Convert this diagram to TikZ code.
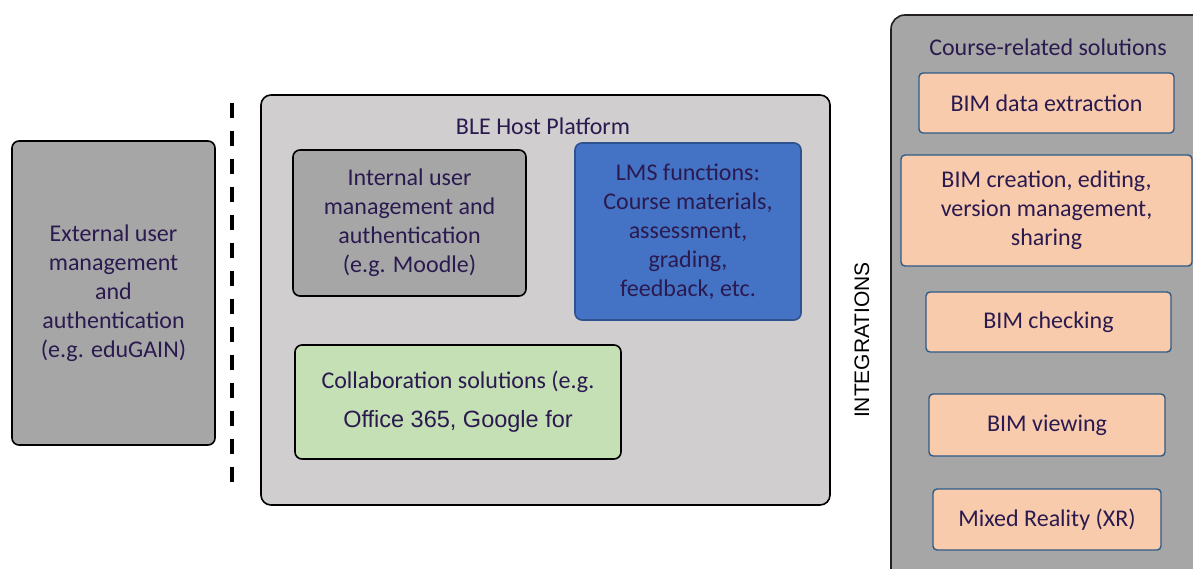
\documentclass[tikz,border=0pt]{standalone}
\usepackage{fontspec}
\setmainfont{Carlito}
\newfontfamily\arialf{Liberation Sans}
\definecolor{txt}{HTML}{2B1A4F}
\definecolor{gry}{HTML}{A6A6A6}
\definecolor{lgry}{HTML}{D0CECE}
\definecolor{lmsblue}{HTML}{4472C4}
\definecolor{lmsedge}{HTML}{2F528F}
\definecolor{grn}{HTML}{C5E0B4}
\definecolor{orng}{HTML}{F8CBAD}
\definecolor{orngedge}{HTML}{2E5A87}
\definecolor{darkedge}{HTML}{231F20}
\tikzset{
  box/.style={draw=black, line width=1.6pt, rounded corners=7pt, inner sep=0pt,
    text=txt, align=center, font=\fontsize{24}{29}\selectfont},
  graybox/.style={box, fill=gry},
  orbox/.style={box, fill=orng, draw=orngedge, line width=1.4pt, rounded corners=4pt},
  ttl/.style={text=txt, font=\fontsize{24}{29}\selectfont, inner sep=0pt},
}
\begin{document}
\begin{tikzpicture}[x=1pt,y=-1pt]
\useasboundingbox (0,0) rectangle (1193,568);
\clip (0,0) rectangle (1193,568);
% left external box
\node[graybox, minimum width=203pt, minimum height=304pt] (ext) at (113.5,293)
  {External user\\management\\and\\authentication\\(e.g. eduGAIN)};
% dashed separator
\coordinate (d1) at (232,103);
\coordinate (d2) at (232,485);
\draw[line width=3.5pt, dash pattern=on 15pt off 13pt] (d1) -- (d2);
% BLE host platform
\node[box, fill=lgry, rounded corners=10pt, minimum width=569pt, minimum height=410pt] (ble) at (545.5,300) {};
\node[ttl] (bletitle) at (543,126) {BLE Host Platform};
\node[graybox, minimum width=233pt, minimum height=146pt] (int) at (409.5,223)
  {Internal user\\management and\\authentication\\(e.g. Moodle)};
\node[box, fill=lmsblue, draw=lmsedge, minimum width=226pt, minimum height=177pt] (lms) at (688,231.5)
  {\fontsize{24}{29.8}\selectfont LMS functions:\\Course materials,\\assessment,\\grading,\\feedback, etc.};
\node[box, fill=grn, minimum width=326pt, minimum height=114pt] (col) at (458,402)
  {Collaboration solutions (e.g.\\[10pt]{\arialf\fontsize{23.5}{29}\selectfont Office 365, Google for}};
% integrations label
\node[rotate=90, inner sep=0pt, font=\arialf\fontsize{21}{25}\selectfont] (integ) at (862,340) {INTEGRATIONS};
% right box
\node[box, fill=gry, draw=darkedge, rounded corners=14pt, minimum width=324pt, minimum height=575pt] (crs) at (1053,302.5) {};
\node[ttl] (crstitle) at (1048,47) {Course-related solutions};
\node[orbox, minimum width=255pt, minimum height=60pt] (b1) at (1046.5,103) {BIM data extraction};
\node[orbox, minimum width=291pt, minimum height=111pt] (b2) at (1046.5,210.5)
  {\fontsize{24}{28.5}\selectfont BIM creation, editing,\\version management,\\sharing};
\node[orbox, minimum width=245pt, minimum height=60pt] (b3) at (1048.5,322) {BIM checking};
\node[orbox, minimum width=236pt, minimum height=62pt] (b4) at (1047,425) {BIM viewing};
\node[orbox, minimum width=228pt, minimum height=61pt] (b5) at (1047,519.5) {Mixed Reality (XR)};
\end{tikzpicture}
\end{document}
